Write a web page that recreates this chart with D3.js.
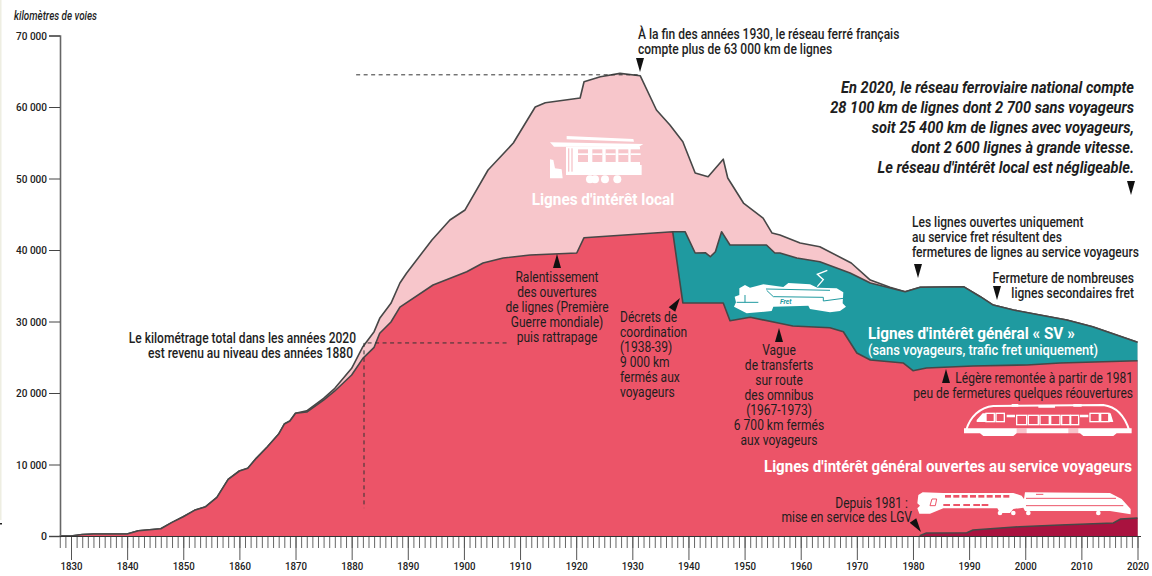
<!DOCTYPE html>
<html>
<head>
<meta charset="utf-8">
<script src="https://d3js.org/d3.v7.min.js"></script>
<style>
  body { margin: 0; background: #fff; }
  svg { display: block; font-family: Roboto, sans-serif; }
  .tick text { font-family: Roboto, sans-serif; fill: #222; font-weight: 500; }
  .top { fill: none; stroke: #474747; stroke-width: 1.6; stroke-linejoin: round; }
  .dash { fill: none; stroke: #333; stroke-width: 1; stroke-dasharray: 4 3.5; }
</style>
</head>
<body>
<script>
var width = 1152, height = 576;

var yTicks = [0, 10000, 20000, 30000, 40000, 50000, 60000, 70000];
var yTickLabels = ["0", "10 000", "20 000", "30 000", "40 000", "50 000", "60 000", "70 000"];
var xTicks = d3.range(1830, 2021, 10);

// total length of network
var totalYears = [1828, 1830, 1832, 1834, 1840, 1842, 1846, 1848, 1850, 1852, 1854, 1856, 1858, 1860, 1861.5, 1863, 1865, 1867, 1868, 1869, 1870,
  1872, 1875, 1877, 1880, 1882, 1884, 1885, 1887, 1888.6, 1889.8, 1894.3, 1897.5, 1900.2, 1904.3, 1908.8, 1912.7, 1914.5, 1920.7, 1921.4, 1924.3, 1927.8, 1931.4,
  1934.3, 1936.7, 1939, 1941.2, 1943.5, 1946.2, 1947, 1949.8, 1953.3, 1954.9, 1956.3, 1959.9, 1963.4, 1969, 1972.4, 1975.9, 1978.6,
  1981.3, 1989, 1992, 1994.3, 1997.9, 2002.6, 2007.4, 2012, 2020];
var totalKm = [0, 0, 200, 280, 280, 745, 1020, 1910, 2700, 3590, 4100, 5400, 7930, 9090, 9470, 10860, 12490, 14260, 15660, 16080, 17160,
  17500, 19250, 20650, 23450, 26480, 28580, 30440, 32540, 35380, 36780, 41400, 44200, 45600, 51190, 54960, 60000, 60600, 61260, 63540, 64240, 64700, 64380,
  59580, 57480, 55150, 50770, 50250, 52700, 50070, 46570, 44470, 42370, 42100, 40980, 40460, 38180, 35800, 34800, 34170,
  34800, 34870, 33470, 32300, 31600, 30900, 30200, 29270, 27090];

// lines with passenger service
var voyYears = [1828, 1830, 1832, 1834, 1840, 1842, 1846, 1848, 1850, 1852, 1854, 1856, 1858, 1860, 1861.5, 1863, 1865, 1867, 1868, 1869, 1870,
  1872, 1875, 1877, 1880, 1882, 1884, 1885, 1887, 1888.6, 1894.5, 1900.5, 1903.4, 1907, 1911.8, 1920.1, 1921.4, 1937.2, 1939,
  1946.2, 1947.4, 1951, 1956, 1958.6, 1965.2, 1967.6, 1970, 1972.4, 1978.3, 1980, 1982.4, 1990.7, 2000.3, 2006.2, 2020];
var voyKm = [0, 0, 200, 280, 280, 745, 1020, 1910, 2700, 3590, 4100, 5400, 7930, 9090, 9470, 10860, 12490, 14260, 15660, 16080, 17160,
  17340, 19020, 20280, 22520, 24850, 26390, 28350, 29930, 32000, 35100, 36960, 38180, 38880, 39300, 39580, 41720, 42560, 32590,
  32590, 30110, 30590, 29790, 29370, 29130, 28570, 25590, 24610, 24190, 23120, 23500, 23780, 23920, 24190, 24520];

// general interest lines including freight only
var svYears = [1937.2, 1939.4, 1941.2, 1943, 1943.9, 1944.8, 1945.9, 1947.4, 1953.9, 1955.4, 1956.3, 1959.3, 1963.4, 1968.8, 1972.4, 1978.6,
  1981.3, 1989, 1992, 1994.3, 1997.9, 2002.6, 2007.4, 2012, 2020];
var svKm = [42560, 42560, 39580, 39620, 39060, 39760, 42560, 40700, 40700, 39580, 39580, 38880, 38360, 36780, 35380, 34170,
  34800, 34870, 33470, 32300, 31600, 30900, 30200, 29270, 27090];

// LGV
var lgvYears = [1981.2, 1982.4, 1989.6, 1990.7, 1999, 2006.2, 2015.7, 2017, 2020];
var lgvKm = [40, 420, 460, 840, 1300, 1540, 1820, 2380, 2520];

var x = d3.scaleLinear().domain([1830, 2020]).range([71, 1137.5]);
var y = d3.scaleLinear().domain([0, 70000]).range([536, 35.5]);

var svg = d3.select("body").append("svg")
    .attr("width", width)
    .attr("height", height);

// pale strip at the left of the scan
svg.append("rect").attr("x", 0).attr("y", 0).attr("width", 1.5).attr("height", 520).attr("fill", "#eeeee2");
svg.append("rect").attr("x", 0).attr("y", 523).attr("width", 2).attr("height", 1.5).attr("fill", "#222");

function zip(years, km) {
  return years.map(function(d, i) { return [d, km[i]]; });
}

var area = d3.area()
    .x(function(d) { return x(d[0]); })
    .y0(y(0))
    .y1(function(d) { return y(d[1]); });

var line = d3.line()
    .x(function(d) { return x(d[0]); })
    .y(function(d) { return y(d[1]); });

var layers = [
  { years: totalYears, km: totalKm, fill: "#f7c6cb" },
  { years: svYears, km: svKm, fill: "#1f9aa0" },
  { years: voyYears, km: voyKm, fill: "#ec5468" },
  { years: lgvYears, km: lgvKm, fill: "#a9123f" }
];

layers.forEach(function(l) {
  var pts = zip(l.years, l.km);
  svg.append("path").attr("d", area(pts)).attr("fill", l.fill);
  svg.append("path").attr("d", line(pts)).attr("class", "top");
});

// axes
var yAxis = d3.axisLeft(y)
    .tickValues(yTicks)
    .tickSize(11)
    .tickPadding(2)
    .tickFormat(function(d, i) { return yTickLabels[i]; });

var gy = svg.append("g").attr("transform", "translate(60,0)").call(yAxis);
gy.select(".domain").attr("stroke", "#666").attr("stroke-width", 1.6);
gy.selectAll(".tick line").attr("stroke", "#444");
gy.selectAll(".tick text").attr("font-size", 11.5)
  .attr("textLength", function(d) { return d ? 31 : 6; })
  .attr("lengthAdjust", "spacingAndGlyphs");

var minorAxis = d3.axisBottom(x)
    .tickValues(d3.range(1828, 2021))
    .tickSize(12)
    .tickFormat("");
var gm = svg.append("g").attr("transform", "translate(0,536)").call(minorAxis);
gm.select(".domain").remove();
gm.selectAll(".tick line").attr("stroke", "#666");

var majorAxis = d3.axisBottom(x)
    .tickValues(xTicks)
    .tickSize(24)
    .tickPadding(2)
    .tickFormat(d3.format("d"));
var gx = svg.append("g").attr("transform", "translate(0,536)").call(majorAxis);
gx.select(".domain").remove();
gx.selectAll(".tick line").attr("stroke", "#555");
gx.selectAll(".tick text").attr("font-size", 11.5)
  .attr("textLength", 22).attr("lengthAdjust", "spacingAndGlyphs");

svg.append("line").attr("x1", 60).attr("x2", 1141).attr("y1", 536.5).attr("y2", 536.5)
  .attr("stroke", "#333").attr("stroke-width", 1.2);

// dashed guides
svg.append("path").attr("class", "dash").attr("d", "M" + x(1880.8) + "," + y(64500) + "H" + x(1931.4));
svg.append("path").attr("class", "dash").attr("d", "M" + x(1907.6) + "," + y(27000) + "H" + x(1882.2) + "V" + y(3900));

// notes
function note(lines, px, py, o) {
  o = o || {};
  var lh = o.lh || 15, sx = o.sx || 0.86;
  lines.forEach(function(s, i) {
    var px2 = Array.isArray(px) ? px[i] : px;
    svg.append("text")
      .attr("transform", "translate(" + px2 + "," + (py + i * lh) + ") scale(" + sx + ",1)")
      .attr("text-anchor", o.anchor || "start")
      .attr("font-size", o.size || 14)
      .attr("font-weight", o.weight || 500)
      .attr("font-style", o.style || "normal")
      .attr("fill", o.fill || "#1e1e1e")
      .text(s);
  });
}

note(["kilomètres de voies"], 14, 20, { size: 12, style: "italic", sx: 0.82 });
note(["À la fin des années 1930, le réseau ferré français", "compte plus de 63 000 km de lignes"], 638, 39);
note(["En 2020, le réseau ferroviaire national compte", "28 100 km de lignes dont 2 700 sans voyageurs", "soit 25 400 km de lignes avec voyageurs,",
  "dont 2 600 lignes à grande vitesse.", "Le réseau d'intérêt local est négligeable."], 1134, 93,
  { anchor: "end", size: 16.5, weight: 700, style: "italic", lh: 20, sx: 0.885 });
note(["Les lignes ouvertes uniquement", "au service fret résultent des", "fermetures de lignes au service voyageurs"], 912, 227);
note(["Fermeture de nombreuses", "lignes secondaires fret"], 1134, 283, { anchor: "end" });
note(["Le kilométrage total dans les années 2020", "est revenu au niveau des années 1880"], [356, 353], 343, { anchor: "end" });
note(["Ralentissement", "des ouvertures", "de lignes (Première", "Guerre mondiale)", "puis rattrapage"], 557, 282, { anchor: "middle", weight: 400 });
note(["Décrets de", "coordination", "(1938-39)", "9 000 km", "fermés aux", "voyageurs"], 620, 322, { weight: 400 });
note(["Vague", "de transferts", "sur route", "des omnibus", "(1967-1973)", "6 700 km fermés", "aux voyageurs"], 779, 355, { anchor: "middle", weight: 400 });
note(["Légère remontée à partir de 1981", "peu de fermetures quelques réouvertures"], 1133, 383, { anchor: "end", weight: 400 });
note(["Depuis 1981 :", "mise en service des LGV"], [908, 912], 508, { anchor: "end", lh: 14, weight: 400 });

note(["Lignes d'intérêt local"], 603, 205, { anchor: "middle", size: 16.5, weight: 700, fill: "#fff", sx: 0.93 });
note(["Lignes d'intérêt général « SV »"], 868, 339, { size: 17, weight: 700, fill: "#fff", sx: 0.9 });
note(["(sans voyageurs, trafic fret uniquement)"], 868, 355, { size: 14.5, fill: "#fff", sx: 0.89 });
note(["Lignes d'intérêt général ouvertes au service voyageurs"], 764, 472, { size: 16.5, weight: 700, fill: "#fff", sx: 0.913 });

// arrows: x, y of tip, rotation
var arrows = [[640, 72, 0], [1131, 195, 0], [918, 278, 0], [997, 300, 0], [557, 254, 180], [779, 328, 180],
  [946, 369, 180], [680, 298, 215], [921, 532, -35]];
svg.selectAll(".arrow").data(arrows).enter().append("path")
  .attr("class", "arrow")
  .attr("d", "M0,0L-4,-14L4,-14Z")
  .attr("fill", "#111")
  .attr("transform", function(d) { return "translate(" + d[0] + "," + d[1] + ") rotate(" + d[2] + ")"; });

// little white train drawings, in zoomed crop units
function icon(ox, oy) {
  return svg.append("g").attr("transform", "translate(" + ox + "," + oy + ") scale(0.3333)");
}

var pink = "#f7c6cb", teal = "#1f9aa0", red = "#ec5468";

var tram = icon(540, 130);
tram.append("path").attr("fill", "#fff").attr("d",
  "M80,18L280,27L282,35L80,28ZM30,37L310,42L296,51L42,50ZM78,48H105V135H78ZM105,105H305V135H105Z" +
  "M30,88L40,90L45,115L65,118L68,145H30ZM105,50H300V105H105Z");
tram.selectAll("circle").data([150, 165, 195, 232]).enter().append("circle")
  .attr("cx", function(d) { return d; }).attr("cy", 148).attr("r", 12).attr("fill", "#fff");
tram.selectAll(".w").data([114, 157, 197, 235, 272]).enter().append("rect")
  .attr("x", function(d) { return d; }).attr("y", 58).attr("width", 30).attr("height", 38).attr("fill", pink);
tram.selectAll(".b").data([114, 157, 197, 235, 272]).enter().append("rect")
  .attr("x", function(d) { return d; }).attr("y", 70).attr("width", 30).attr("height", 5).attr("fill", "#fff");
tram.selectAll(".p").data([84, 94]).enter().append("rect")
  .attr("x", function(d) { return d; }).attr("y", 55).attr("width", 4).attr("height", 70).attr("fill", pink);

var loco = icon(730, 265);
loco.append("path").attr("fill", "#fff").attr("d",
  "M28,70L45,60L60,68L100,58L160,66L175,54L240,58L262,68L320,70L340,82L338,115L348,125L330,138L300,142L240,132" +
  "L235,122L130,125L125,138L50,145L12,125L18,112L14,95L28,90Z");
loco.append("path").attr("fill", "none").attr("stroke", "#fff").attr("stroke-width", 4)
  .attr("d", "M262,65L280,44L262,28L292,16");
loco.append("path").attr("fill", "none").attr("stroke", teal).attr("stroke-width", 3)
  .attr("d", "M108,72L300,76M110,76L130,95L280,97L280,108L340,100M20,112H85M45,90L45,112");
loco.append("text").attr("x", 150).attr("y", 116).attr("font-size", 20).attr("font-weight", 700)
  .attr("font-style", "italic").attr("fill", teal).text("Fret");

var ter = icon(960, 400);
ter.append("path").attr("fill", "none").attr("stroke", "#fff").attr("stroke-width", 6)
  .attr("d", "M18,92C30,50 60,22 100,18L430,15C470,20 495,50 508,92");
ter.append("path").attr("fill", "#fff").attr("d",
  "M12,85H515V100H470L460,108H370L360,100H170L160,108H70L60,100H12ZM155,12H175V20H155ZM235,17H285V23H235ZM340,12H365V20H340ZM140,44H165V52H140ZM360,44H385V52H360Z");
ter.append("path").attr("fill", "#fff").attr("d", "M50,60L68,40H78V66H50ZM460,66L452,40H445V66Z");
ter.selectAll(".w").data([[78, 40, 25, 25], [108, 40, 25, 25], [170, 46, 30, 28], [205, 46, 30, 28], [240, 46, 28, 28], [272, 46, 28, 28], [305, 46, 25, 28], [332, 46, 24, 28], [390, 40, 28, 25], [422, 40, 25, 25]])
  .enter().append("rect")
  .attr("x", function(d) { return d[0]; }).attr("y", function(d) { return d[1]; })
  .attr("width", function(d) { return d[2]; }).attr("height", function(d) { return d[3]; })
  .attr("fill", "none").attr("stroke", "#fff").attr("stroke-width", 4);
ter.selectAll(".d").data([170, 325]).enter().append("rect")
  .attr("x", function(d) { return d; }).attr("y", 85).attr("width", 30).attr("height", 20).attr("fill", red).attr("opacity", 0.35);

var tgv = icon(910, 485);
tgv.append("path").attr("fill", "#fff").attr("d",
  "M25,30L38,22L100,24L310,24L335,32L342,42L345,22L600,24L635,42L662,72V88L600,78L345,78L340,68L310,72L300,84L270,84L262,70L100,70L60,86L28,86L22,70L30,62L22,55Z");
tgv.selectAll(".c").data([270, 310, 355, 565]).enter().append("circle")
  .attr("cx", function(d) { return d; }).attr("cy", 84).attr("r", 7).attr("fill", "#fff");
tgv.selectAll(".w1").data([105, 130, 155, 180, 205, 230, 255, 280]).enter().append("rect")
  .attr("x", function(d) { return d; }).attr("y", 30).attr("width", 18).attr("height", 8).attr("fill", red);
tgv.selectAll(".w2").data([100, 130, 160, 190, 215]).enter().append("rect")
  .attr("x", function(d) { return d; }).attr("y", 57).attr("width", 20).attr("height", 6).attr("fill", red);
tgv.append("path").attr("fill", "none").attr("stroke", red).attr("stroke-width", 3)
  .attr("d", "M60,62L66,42H80L76,62ZM348,40H618M348,62H640M400,28L378,28");
</script>
</body>
</html>
